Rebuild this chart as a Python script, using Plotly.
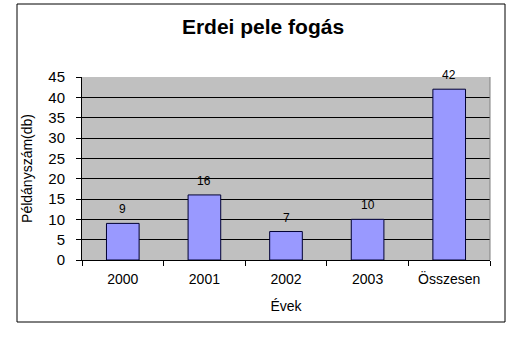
import plotly.graph_objects as go

categories = ["2000", "2001", "2002", "2003", "Összesen"]
values = [9, 16, 7, 10, 42]
y_ticks = [0, 5, 10, 15, 20, 25, 30, 35, 40, 45]

W, H = 526, 363
ml, mr, mt, mb = 82, 36, 77, 103
pw = W - ml - mr
ph = H - mt - mb

FONT = "Arial, Liberation Sans"

fig = go.Figure(go.Bar(
    x=categories, y=values,
    marker=dict(color="#9999ff", line=dict(color="#000033", width=1)),
    cliponaxis=False,
))

# category axes place numeric positions by category index
for i, v in enumerate(values):
    fig.add_annotation(x=i, y=v, xref="x", yref="y", text=str(v),
                       showarrow=False, yanchor="bottom", yshift=5,
                       font=dict(family=FONT, size=12, color="black"))

def px_x(p):
    return (p - ml) / pw

def px_y(p):
    return (H - mb - p) / ph

fig.update_layout(
    width=W, height=H,
    margin=dict(l=ml, r=mr, t=mt, b=mb),
    paper_bgcolor="white", plot_bgcolor="#c0c0c0",
    font=dict(family=FONT, color="black"),
    title=dict(text="<b>Erdei pele fogás</b>", x=0.5, xanchor="center",
               y=1 - 27 / H, yanchor="middle",
               font=dict(size=21, family=FONT)),
    showlegend=False,
    bargap=0.6,
    shapes=[dict(type="rect", xref="paper", yref="paper",
                 x0=px_x(17), x1=px_x(505), y0=px_y(322), y1=px_y(4),
                 line=dict(color="black", width=1), layer="below")],
)
fig.update_xaxes(
    type="category", categoryorder="array", categoryarray=categories,
    range=[-0.5, len(categories) - 0.5],
    tickson="boundaries", ticks="outside", ticklen=5,
    tickcolor="black", showline=True, linecolor="black", linewidth=1,
    showgrid=False, tickfont=dict(size=14), ticklabelstandoff=6,
    title=dict(text="Évek", font=dict(size=14), standoff=15),
)
fig.update_yaxes(
    range=[0, 45], tickvals=y_ticks, ticks="outside", ticklen=5,
    tickcolor="black", showline=True, linecolor="black", linewidth=1,
    showgrid=True, gridcolor="black", gridwidth=1, zeroline=False,
    tickfont=dict(size=15), ticklabelstandoff=8,
    title=dict(text="Példányszám(db)", font=dict(size=14), standoff=12),
)
fig.add_shape(type="line", xref="paper", yref="paper", x0=1, x1=1, y0=0, y1=1,
              line=dict(color="#808080", width=1))

fig.write_html("out.html",
               config={"displayModeBar": False},
               post_script="document.body.style.margin='0';document.body.style.overflow='hidden';")
